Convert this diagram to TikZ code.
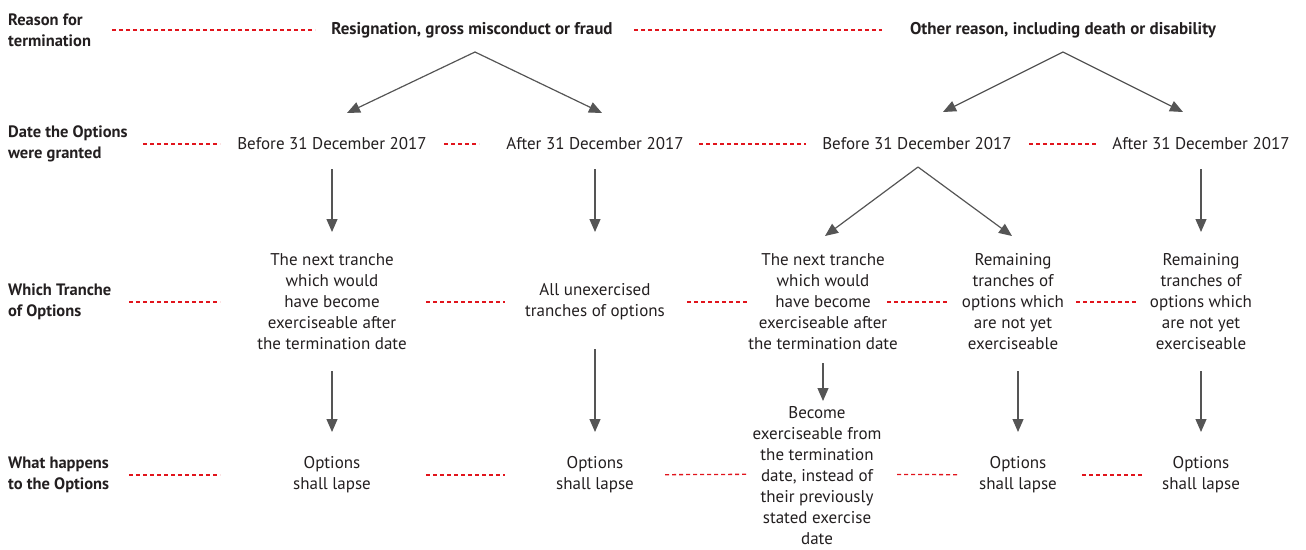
\documentclass[tikz,border=0pt]{standalone}
\usepackage{fontspec}
\setmainfont{PT Sans}
\usetikzlibrary{arrows.meta, positioning}
\definecolor{txt}{HTML}{231F20}
\definecolor{arrgray}{HTML}{555555}
\definecolor{sepred}{HTML}{E1141C}

\begin{document}
\begin{tikzpicture}[
        x=1pt, y=-1pt,
        every node/.style={inner sep=0pt, text=txt, align=center, font=\fontsize{17}{21}\selectfont},
        rowlab/.style={anchor=west, align=left, font=\fontsize{16.5}{21}\selectfont\bfseries},
        head/.style={font=\fontsize{17}{21}\selectfont\bfseries},
        arr/.style={draw=arrgray, line width=1.2pt, -{Triangle[length=13pt, width=11pt]}},
        redsep/.style={draw=sepred, line width=1.3pt, dash pattern=on 4pt off 3pt}
    ]
    \useasboundingbox (0,0) rectangle (1306,549);

    % row labels
    \node[rowlab] (lab1) at (8,30) {Reason for\\termination};
    \node[rowlab] (lab2) at (8,144) {Date the Options\\were granted};
    \node[rowlab] (lab3) at (8,302) {Which Tranche\\of Options};
    \node[rowlab] (lab4) at (8,475) {What happens\\to the Options};

    % reason
    \node[head] (res) at (472,30) {Resignation, gross misconduct or fraud};
    \node[head] (oth) at (1063,30) {Other reason, including death or disability};

    % grant date
    \node (b1) at (332,144) {Before 31 December 2017};
    \node (a1) at (595,144) {After 31 December 2017};
    \node (b2) at (917,144) {Before 31 December 2017};
    \node (a2) at (1201,144) {After 31 December 2017};

    % tranche
    \node (t1) at (332,302) {The next tranche\\which would\\have become\\exerciseable after\\the termination date};
    \node (t2) at (595,302) {All unexercised\\tranches of options};
    \node (t3) at (823,302) {The next tranche\\which would\\have become\\exerciseable after\\the termination date};
    \node (t4) at (1013,302) {Remaining\\tranches of\\options which\\are not yet\\exerciseable};
    \node (t5) at (1201,302) {Remaining\\tranches of\\options which\\are not yet\\exerciseable};

    % outcome
    \node (o1) at (332,475) {Options\\shall lapse};
    \node (o2) at (595,475) {Options\\shall lapse};
    \node (o3) at (817,476) {Become\\exerciseable from\\the termination\\date, instead of\\their previously\\stated exercise\\date};
    \node (o4) at (1018,475) {Options\\shall lapse};
    \node (o5) at (1201,475) {Options\\shall lapse};

    % red separators
    \draw[redsep, shorten <=104pt, shorten >=157pt] (lab1.west) -- (res.center);
    \draw[redsep, shorten <=162pt, shorten >=181pt] (res.center) -- (oth.center);

    \draw[redsep, shorten <=135pt, shorten >=112pt] (lab2.west) -- (b1.center);
    \draw[redsep, shorten <=112pt, shorten >=116pt] (b1.center) -- (a1.center);
    \draw[redsep, shorten <=104pt, shorten >=111pt] (a1.center) -- (b2.center);
    \draw[redsep, shorten <=112pt, shorten >=105pt] (b2.center) -- (a2.center);

    \draw[redsep, shorten <=121pt, shorten >=112pt] (lab3.west) -- (t1.center);
    \draw[redsep, shorten <=94pt, shorten >=90pt] (t1.center) -- (t2.center);
    \draw[redsep, shorten <=92pt, shorten >=76pt] (t2.center) -- (t3.center);
    \draw[redsep, shorten <=64pt, shorten >=64pt] (t3.center) -- (t4.center);
    \draw[redsep, shorten <=63pt, shorten >=64pt] (t4.center) -- (t5.center);

    \draw[redsep, shorten <=121pt, shorten >=112pt] (lab4.west) -- (o1.center);
    \draw[redsep, shorten <=94pt, shorten >=90pt] (o1.center) -- (o2.center);
    \draw[redsep, shorten <=70pt, shorten >=70pt] (o2.center) -- ([yshift=2pt]o3.center);
    \draw[redsep, shorten <=80pt, shorten >=60pt] ([yshift=2pt]o3.center) -- (o4.center);
    \draw[redsep, shorten <=64pt, shorten >=58pt] (o4.center) -- (o5.center);

    % arrows
    \draw[arr] ([xshift=3pt, yshift=-22pt]res.center) -- ([xshift=15pt, yshift=31pt]b1.center);
    \draw[arr] ([xshift=3pt, yshift=-22pt]res.center) -- ([xshift=7pt, yshift=31pt]a1.center);
    \draw[arr] ([yshift=-22pt]oth.center) -- ([xshift=26pt, yshift=32pt]b2.center);
    \draw[arr] ([yshift=-22pt]oth.center) -- ([xshift=-18pt, yshift=32pt]a2.center);

    \draw[arr] ([yshift=-25pt]b1.center) -- ([yshift=70pt]t1.center);
    \draw[arr] ([yshift=-25pt]a1.center) -- ([yshift=70pt]t2.center);
    \draw[arr] ([xshift=1pt, yshift=-23pt]b2.center) -- ([xshift=2pt, yshift=66pt]t3.center);
    \draw[arr] ([xshift=1pt, yshift=-23pt]b2.center) -- ([xshift=-1pt, yshift=66pt]t4.center);
    \draw[arr] ([yshift=-25pt]a2.center) -- ([yshift=70pt]t5.center);

    \draw[arr] ([yshift=-69pt]t1.center) -- ([yshift=43pt]o1.center);
    \draw[arr] ([yshift=-47pt]t2.center) -- ([yshift=43pt]o2.center);
    \draw[arr] ([yshift=-61pt]t3.center) -- ([xshift=6pt, yshift=75pt]o3.center);
    \draw[arr] ([xshift=5pt, yshift=-69pt]t4.center) -- ([yshift=43pt]o4.center);
    \draw[arr] ([yshift=-69pt]t5.center) -- ([yshift=43pt]o5.center);
\end{tikzpicture}
\end{document}
